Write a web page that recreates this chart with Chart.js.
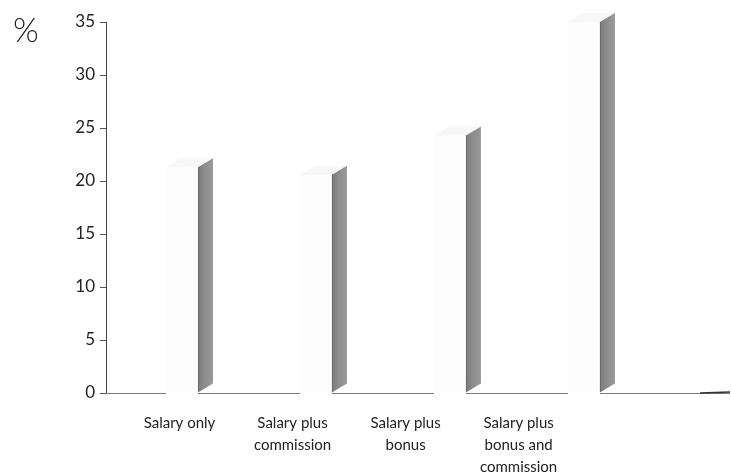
<!DOCTYPE html>
<html>
<head>
<meta charset="utf-8">
<script src="https://cdn.jsdelivr.net/npm/chart.js@4.4.1/dist/chart.umd.min.js"></script>
<style>
  html, body { margin: 0; padding: 0; background: #ffffff; }
  #wrap { width: 731px; height: 475px; position: relative; }
</style>
</head>
<body>
<div id="wrap"><canvas id="chart" width="731" height="475"></canvas></div>
<script>
// Pay structure categories and the share (%) for each
const categories = ['Salary only', 'Salary plus commission', 'Salary plus bonus', 'Salary plus bonus and commission'];
const tickLabels = [['Salary only'], ['Salary plus', 'commission'], ['Salary plus', 'bonus'], ['Salary plus', 'bonus and', 'commission']];
const shares = [21.3, 20.6, 24.3, 35.0];
const yTicks = [0, 5, 10, 15, 20, 25, 30, 35];

const FONT = 'Lato, "Open Sans", sans-serif';
const DEPTH_X = 15;
const DEPTH_Y = 9;

// Draws the floor line between the bars, skipping the white front faces
const floorPlugin = {
  id: 'floor',
  beforeDatasetsDraw(chart) {
    const { ctx, chartArea } = chart;
    const meta = chart.getDatasetMeta(0);
    const y0 = Math.round(chart.scales.y.getPixelForValue(0)) + 0.5;
    let start = chartArea.left;
    ctx.save();
    ctx.strokeStyle = '#7a7a7a';
    ctx.lineWidth = 1.2;
    ctx.beginPath();
    meta.data.forEach((bar) => {
      const { x, width } = bar.getProps(['x', 'width'], true);
      ctx.moveTo(start, y0);
      ctx.lineTo(x - width / 2, y0);
      start = x + width / 2;
    });
    ctx.moveTo(start, y0);
    ctx.lineTo(chartArea.right, y0);
    ctx.stroke();
    // heavier end of the floor
    ctx.strokeStyle = '#333';
    ctx.lineWidth = 1.6;
    ctx.beginPath();
    ctx.moveTo(chartArea.right - 30, y0 - 0.5);
    ctx.lineTo(chartArea.right, y0 - 1.5);
    ctx.stroke();
    ctx.restore();
  }
};

// Draws the shaded side face (and faint top face) of each bar in depth
const sidePlugin = {
  id: 'sides',
  afterDatasetsDraw(chart) {
    const { ctx } = chart;
    const meta = chart.getDatasetMeta(0);
    ctx.save();
    meta.data.forEach((bar) => {
      const { x, y, base, width } = bar.getProps(['x', 'y', 'base', 'width'], true);
      const l = x - width / 2;
      const r = x + width / 2;
      // top face
      ctx.fillStyle = '#f7f7f7';
      ctx.beginPath();
      ctx.moveTo(l, y);
      ctx.lineTo(l + DEPTH_X, y - DEPTH_Y);
      ctx.lineTo(r + DEPTH_X, y - DEPTH_Y);
      ctx.lineTo(r, y);
      ctx.closePath();
      ctx.fill();
      // side face
      const g = ctx.createLinearGradient(r, 0, r + DEPTH_X, 0);
      g.addColorStop(0, '#7c7c7c');
      g.addColorStop(0.5, '#8e8e8e');
      g.addColorStop(1, '#999999');
      ctx.fillStyle = g;
      ctx.beginPath();
      ctx.moveTo(r, y);
      ctx.lineTo(r + DEPTH_X, y - DEPTH_Y);
      ctx.lineTo(r + DEPTH_X, base - DEPTH_Y);
      ctx.lineTo(r, base);
      ctx.closePath();
      ctx.fill();
      ctx.strokeStyle = '#6a6a6a';
      ctx.lineWidth = 1;
      ctx.beginPath();
      ctx.moveTo(r + 0.5, y);
      ctx.lineTo(r + 0.5, base - 1);
      ctx.stroke();
    });
    ctx.restore();
  }
};

// Unit sign above the value axis
const unitPlugin = {
  id: 'unit',
  afterDraw(chart) {
    const { ctx } = chart;
    ctx.save();
    ctx.fillStyle = '#222';
    ctx.font = '300 33px ' + FONT;
    ctx.textAlign = 'left';
    ctx.textBaseline = 'alphabetic';
    ctx.fillText('%', 13, 42);
    ctx.restore();
  }
};

new Chart(document.getElementById('chart'), {
  type: 'bar',
  data: {
    datasets: [{
      data: shares.map((v, i) => ({ x: i + 1, y: v })),
      backgroundColor: '#fdfdfd',
      borderWidth: 0,
      barThickness: 32,
      xAxisID: 'x',
      yAxisID: 'y'
    }]
  },
  options: {
    responsive: false,
    animation: false,
    layout: { padding: { top: 22, right: 1, left: 0, bottom: 0 } },
    plugins: { legend: { display: false }, tooltip: { enabled: false } },
    scales: {
      x: {
        type: 'linear',
        display: false,
        offset: false,
        min: 0.433,
        max: 5.09
      },
      x2: {
        type: 'linear',
        position: 'bottom',
        offset: false,
        min: 0.35,
        max: 5.87,
        grid: { display: false, drawTicks: false },
        border: { display: false },
        afterBuildTicks: (scale) => {
          scale.ticks = categories.map((_, i) => ({ value: i + 1 }));
        },
        afterFit: (scale) => { scale.height = 82; },
        ticks: {
          autoSkip: false,
          maxRotation: 0,
          padding: 19,
          color: '#222',
          font: { family: FONT, size: 15, lineHeight: 1.47 },
          callback: (value) => tickLabels[Math.round(value) - 1]
        }
      },
      y: {
        min: 0,
        max: 35,
        afterBuildTicks: (scale) => {
          scale.ticks = yTicks.map((v) => ({ value: v }));
        },
        afterFit: (scale) => { scale.width = 106; },
        grid: { drawOnChartArea: false, drawTicks: true, tickLength: 6, color: '#555' },
        border: { display: true, color: '#444', width: 1 },
        ticks: {
          padding: 5,
          color: '#222',
          font: { family: FONT, size: 17 }
        }
      }
    }
  },
  plugins: [floorPlugin, sidePlugin, unitPlugin]
});
</script>
</body>
</html>
